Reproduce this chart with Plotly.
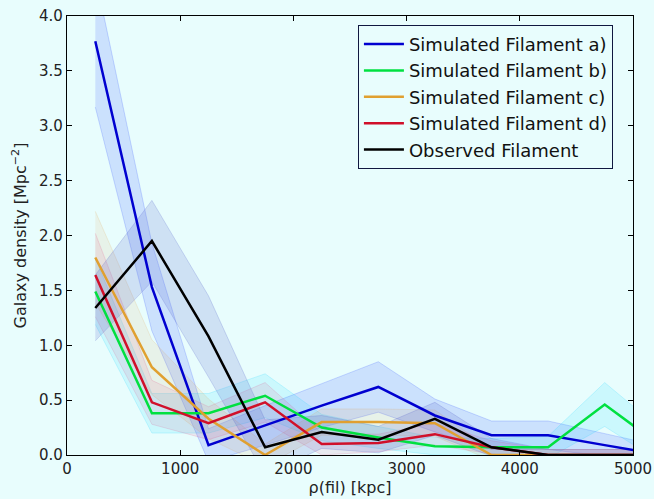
import plotly.graph_objects as go

# radial distance from filament spine [kpc]
rho = [250, 750, 1250, 1750, 2250, 2750, 3250, 3750, 4250, 4750, 5250]

fil_a = [3.77, 1.53, 0.09, 0.27, 0.45, 0.62, 0.36, 0.18, 0.18, 0.09, 0.00]
fil_b = [1.49, 0.38, 0.38, 0.54, 0.25, 0.16, 0.08, 0.07, 0.07, 0.46, 0.08]
fil_c = [1.80, 0.80, 0.33, 0.00, 0.30, 0.30, 0.29, 0.00, 0.00, 0.00, 0.00]
fil_d = [1.64, 0.48, 0.29, 0.48, 0.10, 0.11, 0.19, 0.07, 0.00, 0.00, 0.00]
observed = [1.34, 1.95, 1.08, 0.07, 0.21, 0.14, 0.33, 0.07, 0.00, 0.00, 0.00]

err_a = [0.60, 0.40, 0.15, 0.18, 0.20, 0.23, 0.15, 0.13, 0.13, 0.10, 0.08]
err_b = [0.30, 0.18, 0.18, 0.20, 0.12, 0.10, 0.08, 0.08, 0.10, 0.20, 0.15]
err_c = [0.42, 0.25, 0.18, 0.10, 0.12, 0.12, 0.12, 0.05, 0.05, 0.05, 0.05]
err_d = [0.38, 0.20, 0.15, 0.18, 0.10, 0.08, 0.10, 0.06, 0.05, 0.05, 0.05]
err_obs = [0.30, 0.37, 0.37, 0.25, 0.15, 0.12, 0.15, 0.08, 0.05, 0.05, 0.05]

names = ['Simulated Filament a)', 'Simulated Filament b)', 'Simulated Filament c)',
         'Simulated Filament d)', 'Observed Filament']
series = [fil_a, fil_b, fil_c, fil_d, observed]
errors = [err_a, err_b, err_c, err_d, err_obs]
colors = ['#0000d0', '#00e040', '#e0a030', '#d0102a', '#000000']
band_colors = ['rgba(40,70,255,0.15)', 'rgba(0,210,255,0.12)', 'rgba(230,150,60,0.10)',
               'rgba(230,60,120,0.10)', 'rgba(80,90,200,0.17)']

bg = 'rgb(232,253,253)'
fig = go.Figure()

# shaded error bands first
for y, e, bc in zip(series, errors, band_colors):
    up = [a + b for a, b in zip(y, e)]
    lo = [a - b for a, b in zip(y, e)]
    fig.add_trace(go.Scatter(
        x=rho + rho[::-1], y=up + lo[::-1],
        fill='toself', fillcolor=bc, mode='lines',
        line=dict(color=bc.replace('0.1', '0.2'), width=0.8),
        hoverinfo='skip', showlegend=False))

for y, n, c in zip(series, names, colors):
    fig.add_trace(go.Scatter(x=rho, y=y, name=n, mode='lines',
                             line=dict(color=c, width=2.5)))

axis_common = dict(showline=True, linecolor='black', linewidth=1.2, mirror='ticks',
                   ticks='inside', ticklen=5, tickcolor='black', showgrid=False,
                   zeroline=False, automargin=False, tickfont=dict(size=15, color='#222'))

fig.update_layout(
    width=654, height=499,
    paper_bgcolor=bg, plot_bgcolor=bg,
    font=dict(family='DejaVu Sans', size=15, color='#222'),
    margin=dict(l=67, r=21, t=16, b=44),
    xaxis=dict(range=[0, 5000], tickvals=[0, 1000, 2000, 3000, 4000, 5000],
               title=dict(text='ρ(fil) [kpc]', standoff=2, font=dict(size=16)),
               **axis_common),
    yaxis=dict(range=[0, 4.0], tickvals=[0, 0.5, 1, 1.5, 2, 2.5, 3, 3.5, 4],
               tickformat='.1f',
               title=dict(text='Galaxy density [Mpc<sup>−2</sup>]', standoff=8, font=dict(size=16)),
               **axis_common),
    legend=dict(x=0.514, y=0.98, xanchor='left', yanchor='top',
                bgcolor=bg, bordercolor='#101840', borderwidth=1,
                font=dict(size=18, color='#111'), tracegroupgap=0, itemwidth=40),
)

# page default body margin would shift the figure; remove it
fig.write_html("out.html", config={'displayModeBar': False},
               post_script="document.body.style.margin='0';")
